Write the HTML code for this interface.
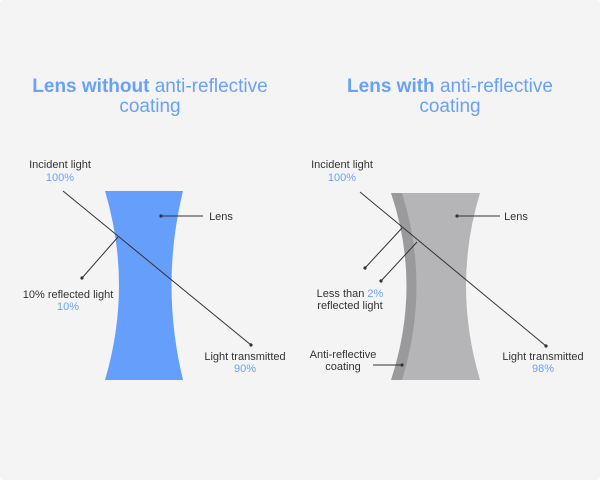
<!DOCTYPE html>
<html><head><style>
body{margin:0;background:#fff}
svg{display:block}
text{font-family:"Liberation Sans",sans-serif}
.t{font-size:19px;fill:#6aa1f8;text-anchor:middle}
.l{font-size:11px;fill:#333;text-anchor:middle}
.b{fill:#6aa1f8}
</style></head><body>
<svg width="600" height="480" viewBox="0 0 600 480">
<defs><marker id="a" markerWidth="6" markerHeight="6" refX="3" refY="3" orient="auto"><circle cx="3" cy="3" r="1.6" fill="#333"/></marker></defs>
<rect x="0" y="0" width="600" height="480" rx="4" fill="#f4f4f4"/>
<text class="t" x="150" y="92"><tspan font-weight="bold">Lens without</tspan> anti-reflective</text>
<text class="t" x="150" y="112">coating</text>
<text class="t" x="450" y="92"><tspan font-weight="bold">Lens with</tspan> anti-reflective</text>
<text class="t" x="450" y="112">coating</text>
<!-- left lens -->
<path d="M105 191 L183 191 Q160 285 183 380 L105 380 Q133 285 105 191Z" fill="#659ffb"/>
<g stroke="#333" stroke-width="1" fill="none" marker-end="url(#a)">
<line x1="63" y1="191" x2="251" y2="345"/>
<line x1="118" y1="237" x2="82" y2="278"/>
<line x1="203" y1="216" x2="161" y2="216"/>
</g>
<text class="l" x="60" y="168">Incident light</text>
<text class="l b" x="60" y="181">100%</text>
<text class="l" x="221" y="220" text-anchor="middle">Lens</text>
<text class="l" x="68" y="298">10% reflected light</text>
<text class="l b" x="68" y="310">10%</text>
<text class="l" x="245" y="360">Light transmitted</text>
<text class="l b" x="245" y="372">90%</text>
<!-- right lens -->
<path d="M391 193 L410 193 Q434 285 410 380 L391 380 Q422 285 391 193Z" fill="#9a9a9c"/>
<path d="M402 193 L480 193 Q452 285 480 380 L402 380 Q431 285 402 193Z" fill="#b5b4b6"/>
<g stroke="#333" stroke-width="1" fill="none" marker-end="url(#a)">
<line x1="360" y1="192" x2="546" y2="346"/>
<line x1="402" y1="228" x2="365" y2="268"/>
<line x1="417" y1="242" x2="381" y2="281"/>
<line x1="500" y1="216" x2="457" y2="216"/>
<line x1="373" y1="365" x2="402" y2="365"/>
</g>
<text class="l" x="342" y="168">Incident light</text>
<text class="l b" x="342" y="181">100%</text>
<text class="l" x="516" y="220">Lens</text>
<text class="l" x="350" y="297">Less than <tspan class="b">2%</tspan></text>
<text class="l" x="350" y="309">reflected light</text>
<text class="l" x="343" y="358">Anti-reflective</text>
<text class="l" x="343" y="370">coating</text>
<text class="l" x="543" y="360">Light transmitted</text>
<text class="l b" x="543" y="372">98%</text>
</svg>
</body></html>
